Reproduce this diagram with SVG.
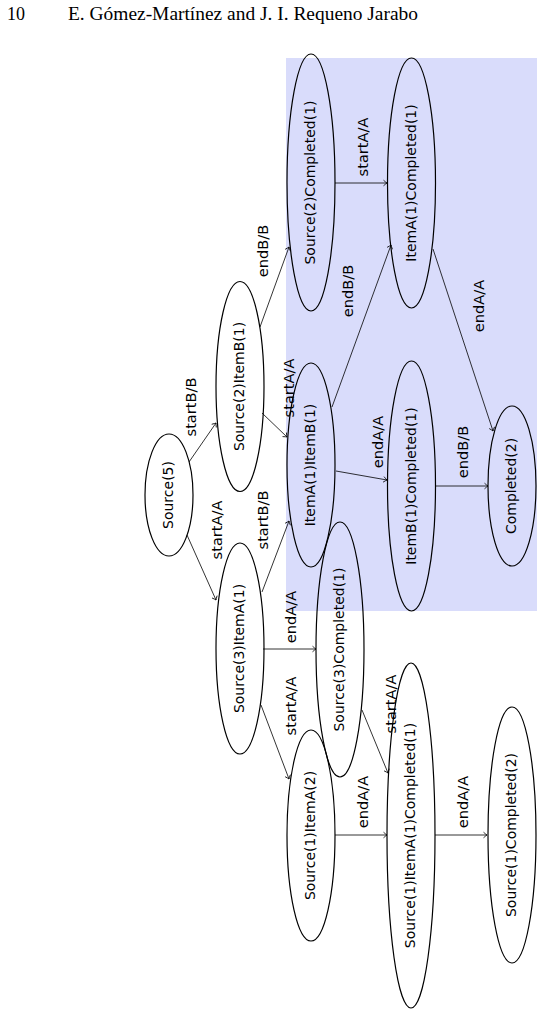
<svg xmlns="http://www.w3.org/2000/svg" width="543" height="1015" viewBox="0 0 543 1015">
<style>
.n{fill:none;stroke:#000;stroke-width:1.2}
.t{font-family:"DejaVu Sans",sans-serif;font-size:14px;fill:#000;text-anchor:middle;dominant-baseline:central}
.l{font-family:"DejaVu Sans",sans-serif;font-size:14.6px;fill:#000;text-anchor:middle;dominant-baseline:central}
.e{fill:none;stroke:#000;stroke-width:0.8;marker-end:url(#ar)}
.h{font-family:"Liberation Serif",serif;font-size:18px;fill:#000}
</style>
<defs>
<marker id="ar" markerUnits="userSpaceOnUse" markerWidth="10" markerHeight="10" refX="0" refY="0" viewBox="-5 -5 10 10" orient="auto">
<path d="M -3.5 -2.8 Q -1 -0.6 0 0 Q -1 0.6 -3.5 2.8" fill="none" stroke="#000" stroke-width="0.8"/>
</marker>
</defs>
<rect width="543" height="1015" fill="#fff"/>
<text class="h" x="7" y="20">10</text>
<text class="h" x="68" y="20" textLength="350" lengthAdjust="spacingAndGlyphs">E. Gómez-Martínez and J. I. Requeno Jarabo</text>
<rect id="region" x="286" y="58" width="251" height="553" fill="#d9dcfb"/>
<g id="edges">
<line class="e" x1="189" y1="462" x2="216" y2="423"/>
<line class="e" x1="187" y1="535" x2="216" y2="600"/>
<line class="e" x1="260" y1="327" x2="289" y2="247"/>
<line class="e" x1="262" y1="413" x2="287" y2="437"/>
<line class="e" x1="262" y1="592" x2="289" y2="521"/>
<line class="e" x1="263" y1="649" x2="316" y2="649"/>
<line class="e" x1="261" y1="705" x2="289" y2="779"/>
<line class="e" x1="362" y1="710" x2="388" y2="773"/>
<line class="e" x1="335" y1="835" x2="387" y2="835"/>
<line class="e" x1="435" y1="835" x2="487" y2="835"/>
<line class="e" x1="335" y1="183" x2="387" y2="183"/>
<line class="e" x1="332" y1="407" x2="391" y2="245"/>
<line class="e" x1="336" y1="471" x2="387" y2="480"/>
<line class="e" x1="436" y1="486" x2="488" y2="486"/>
<line class="e" x1="433" y1="249" x2="493" y2="431"/>
<text class="l" transform="translate(190,407) rotate(-90)">startB/B</text>
<text class="l" transform="translate(216,530) rotate(-90)">startA/A</text>
<text class="l" transform="translate(262,251) rotate(-90)">endB/B</text>
<text class="l" transform="translate(288,388) rotate(-90)">startA/A</text>
<text class="l" transform="translate(262,520) rotate(-90)">startB/B</text>
<text class="l" transform="translate(290,617) rotate(-90)">endA/A</text>
<text class="l" transform="translate(290,706) rotate(-90)">startA/A</text>
<text class="l" transform="translate(390,704) rotate(-90)">startA/A</text>
<text class="l" transform="translate(362,802) rotate(-90)">endA/A</text>
<text class="l" transform="translate(462,802) rotate(-90)">endA/A</text>
<text class="l" transform="translate(362,147) rotate(-90)">startA/A</text>
<text class="l" transform="translate(347,291) rotate(-90)">endB/B</text>
<text class="l" transform="translate(377,442) rotate(-90)">endA/A</text>
<text class="l" transform="translate(462,452) rotate(-90)">endB/B</text>
<text class="l" transform="translate(478,306) rotate(-90)">endA/A</text>
</g>
<g id="source5"><ellipse class="n" cx="169" cy="495" rx="24" ry="61"/><text class="t" transform="translate(168,495) rotate(-90)">Source(5)</text></g>
<g id="source2itemB1"><ellipse class="n" cx="240" cy="386.5" rx="24" ry="105"/><text class="t" transform="translate(239,386.5) rotate(-90)">Source(2)ItemB(1)</text></g>
<g id="source3itemA1"><ellipse class="n" cx="240" cy="648.5" rx="24" ry="105.5"/><text class="t" transform="translate(239,648.5) rotate(-90)">Source(3)ItemA(1)</text></g>
<g id="source2completed1"><ellipse class="n" cx="311" cy="182.5" rx="24" ry="128.5"/><text class="t" transform="translate(310,182.5) rotate(-90)">Source(2)Completed(1)</text></g>
<g id="itemA1itemB1"><ellipse class="n" cx="311" cy="465" rx="24" ry="102"/><text class="t" transform="translate(310,465) rotate(-90)">ItemA(1)ItemB(1)</text></g>
<g id="source3completed1"><ellipse class="n" cx="340" cy="649.5" rx="24" ry="127.5"/><text class="t" transform="translate(339,649.5) rotate(-90)">Source(3)Completed(1)</text></g>
<g id="source1itemA2"><ellipse class="n" cx="311" cy="835.5" rx="24" ry="105.5"/><text class="t" transform="translate(310,835.5) rotate(-90)">Source(1)ItemA(2)</text></g>
<g id="itemA1completed1"><ellipse class="n" cx="411.5" cy="183" rx="24" ry="125"/><text class="t" transform="translate(410.5,183) rotate(-90)">ItemA(1)Completed(1)</text></g>
<g id="itemB1completed1"><ellipse class="n" cx="411.5" cy="486" rx="24" ry="125"/><text class="t" transform="translate(410.5,486) rotate(-90)">ItemB(1)Completed(1)</text></g>
<g id="source1itemA1completed1"><ellipse class="n" cx="411" cy="835.5" rx="24" ry="172.5"/><text class="t" transform="translate(410,835.5) rotate(-90)">Source(1)ItemA(1)Completed(1)</text></g>
<g id="completed2"><ellipse class="n" cx="512" cy="486" rx="24" ry="80"/><text class="t" transform="translate(511,486) rotate(-90)">Completed(2)</text></g>
<g id="source1completed2"><ellipse class="n" cx="512" cy="835" rx="24" ry="128"/><text class="t" transform="translate(511,835) rotate(-90)">Source(1)Completed(2)</text></g>
</svg>
